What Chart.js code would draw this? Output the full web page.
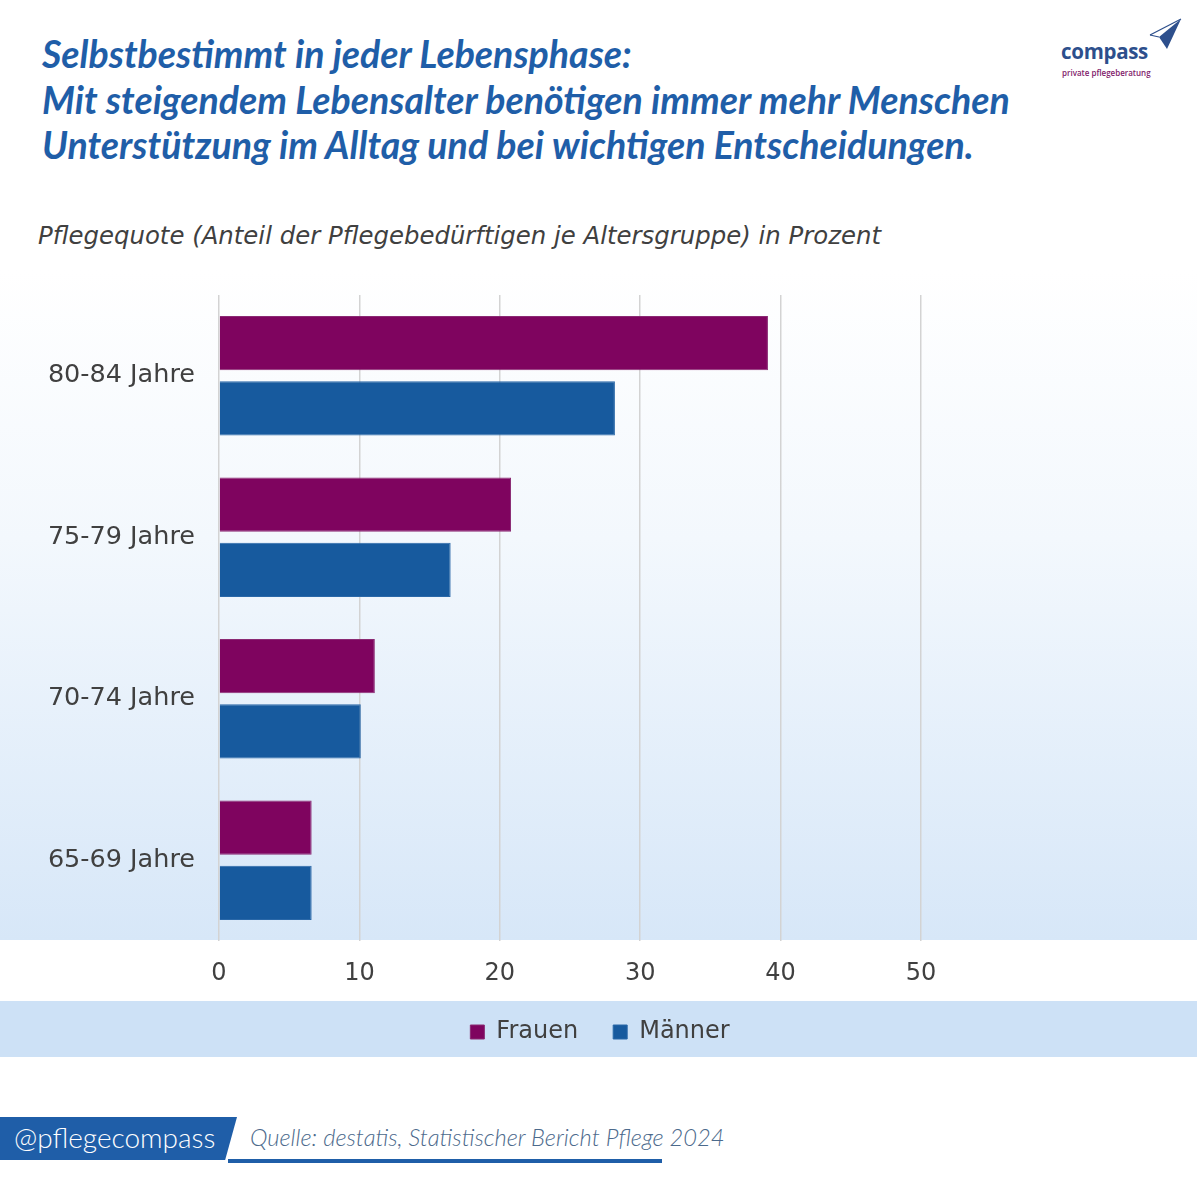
<!DOCTYPE html>
<html lang="de">
<head>
<meta charset="utf-8">
<title>Pflegequote nach Altersgruppe</title>
<script src="https://cdn.jsdelivr.net/npm/chart.js@4.4.1/dist/chart.umd.min.js"></script>
<style>
  body { margin: 0; width: 1200px; height: 1200px; background: #fff; position: relative; overflow: hidden; }
  .titel { position: absolute; left: 42px; top: 31px; font-family: Lato, sans-serif; font-weight: 700; font-style: italic; font-size: 37.5px; line-height: 45.5px; color: #1f5ea8; }
  .untertitel { position: absolute; left: 38px; top: 221px; font-family: "DejaVu Sans", sans-serif; font-style: italic; font-size: 24.4px; color: #404040; }
  .verlauf { position: absolute; left: 0; top: 270px; width: 1197px; height: 670px; background: linear-gradient(to bottom, #ffffff 0%, #f3f8fd 40%, #d7e7f8 100%); }
  .legendeband { position: absolute; left: 0; top: 1001px; width: 1197px; height: 56px; background: #cde1f6; }
  .diagramm { position: absolute; left: 0; top: 250px; width: 1200px; height: 804px; }
  .logo { position: absolute; left: 1060px; top: 14px; width: 130px; height: 70px; }
  .logo .name { position: absolute; left: 1px; top: 23px; font-family: "Open Sans", sans-serif; font-weight: 700; font-size: 20.5px; color: #2d4f8c; letter-spacing: -0.3px; }
  .logo .zusatz { position: absolute; left: 2px; top: 53px; font-family: "Open Sans", sans-serif; font-weight: 600; font-size: 8px; color: #7f1a6b; }
  .handle { position: absolute; left: 0; top: 1117px; width: 237px; height: 43px; background: #1f5ea8; clip-path: polygon(0 0, 100% 0, 95% 100%, 0 100%); }
  .handle span { position: absolute; left: 14px; top: 3px; font-family: Lato, sans-serif; font-weight: 300; font-size: 28px; color: #fff; }
  .quelle { position: absolute; left: 250px; top: 1123px; font-family: Lato, sans-serif; font-weight: 300; font-style: italic; font-size: 23.7px; color: #4c6a8c; }
  .linie { position: absolute; left: 228px; top: 1159px; width: 434px; height: 4px; background: #1f5ea8; }
</style>
</head>
<body>
<div class="titel">Selbstbestimmt in jeder Lebensphase:<br>Mit steigendem Lebensalter benötigen immer mehr Menschen<br>Unterstützung im Alltag und bei wichtigen Entscheidungen.</div>
<div class="logo">
  <svg width="130" height="70" style="position:absolute;left:0;top:0">
    <line x1="90" y1="21" x2="121" y2="5" stroke="#2d4f8c" stroke-width="1.2"/>
    <line x1="90" y1="21" x2="99" y2="23" stroke="#2d4f8c" stroke-width="1.2"/>
    <polygon points="121,5 99,23 107,35" fill="#2d4f8c"/>
  </svg>
  <div class="name">compass</div>
  <div class="zusatz">private pflegeberatung</div>
</div>
<div class="untertitel">Pflegequote (Anteil der Pflegebedürftigen je Altersgruppe) in Prozent</div>
<div class="verlauf"></div>
<div class="legendeband"></div>
<div class="diagramm"><canvas id="pflegeChart"></canvas></div>
<div class="handle"><span>@pflegecompass</span></div>
<div class="quelle">Quelle: destatis, Statistischer Bericht Pflege 2024</div>
<div class="linie"></div>

<script>
// Altersgruppen von oben nach unten
const altersgruppen = ["80-84 Jahre", "75-79 Jahre", "70-74 Jahre", "65-69 Jahre"];

// Pflegequote in Prozent
const frauen = [39.1, 20.8, 11.1, 6.6];
const maenner = [28.2, 16.5, 10.1, 6.6];

const achsenMax = 50;
const achsenSchritt = 10;

document.addEventListener("DOMContentLoaded", function () {
  const ctx = document.getElementById("pflegeChart").getContext("2d");

  new Chart(ctx, {
    type: "bar",
    data: {
      labels: altersgruppen,
      datasets: [
        {
          label: "Frauen",
          data: frauen,
          backgroundColor: "#7f045f",
          borderColor: "#8a2a73",
          borderWidth: 1,
        },
        {
          label: "Männer",
          data: maenner,
          backgroundColor: "#175a9e",
          borderColor: "#2a68a8",
          borderWidth: 1,
        },
      ],
    },
    options: {
      indexAxis: "y",
      responsive: true,
      maintainAspectRatio: false,
      animation: false,
      categoryPercentage: 0.807,
      barPercentage: 0.83,
      layout: {
        padding: { top: 45, left: 0, right: 0, bottom: 0 },
      },
      scales: {
        x: {
          min: 0,
          max: achsenMax,
          ticks: {
            stepSize: achsenSchritt,
            color: "#404040",
            padding: 18,
            font: { family: "DejaVu Sans", size: 24 },
          },
          grid: { color: "#d3d3d3", lineWidth: 1.5, drawTicks: false },
          border: { display: false },
          afterFit: function (scale) {
            scale.height = 44;
          },
        },
        y: {
          ticks: {
            color: "#404040",
            padding: 16,
            font: { family: "DejaVu Sans", size: 25.5 },
          },
          grid: { display: false },
          border: { display: false },
          afterFit: function (scale) {
            scale.width = 219;
          },
        },
        // leerer Rand rechts neben dem Diagramm (Hintergrund läuft weiter)
        rand: {
          axis: "y",
          position: "right",
          ticks: { display: false },
          grid: { display: false },
          border: { display: false },
          afterFit: function (scale) {
            scale.width = 279;
          },
        },
      },
      plugins: {
        legend: {
          position: "bottom",
          labels: {
            color: "#404040",
            boxWidth: 14,
            boxHeight: 14,
            padding: 35,
            font: { family: "DejaVu Sans", size: 24 },
          },
        },
        tooltip: { enabled: false },
      },
    },
  });
});
</script>
</body>
</html>
